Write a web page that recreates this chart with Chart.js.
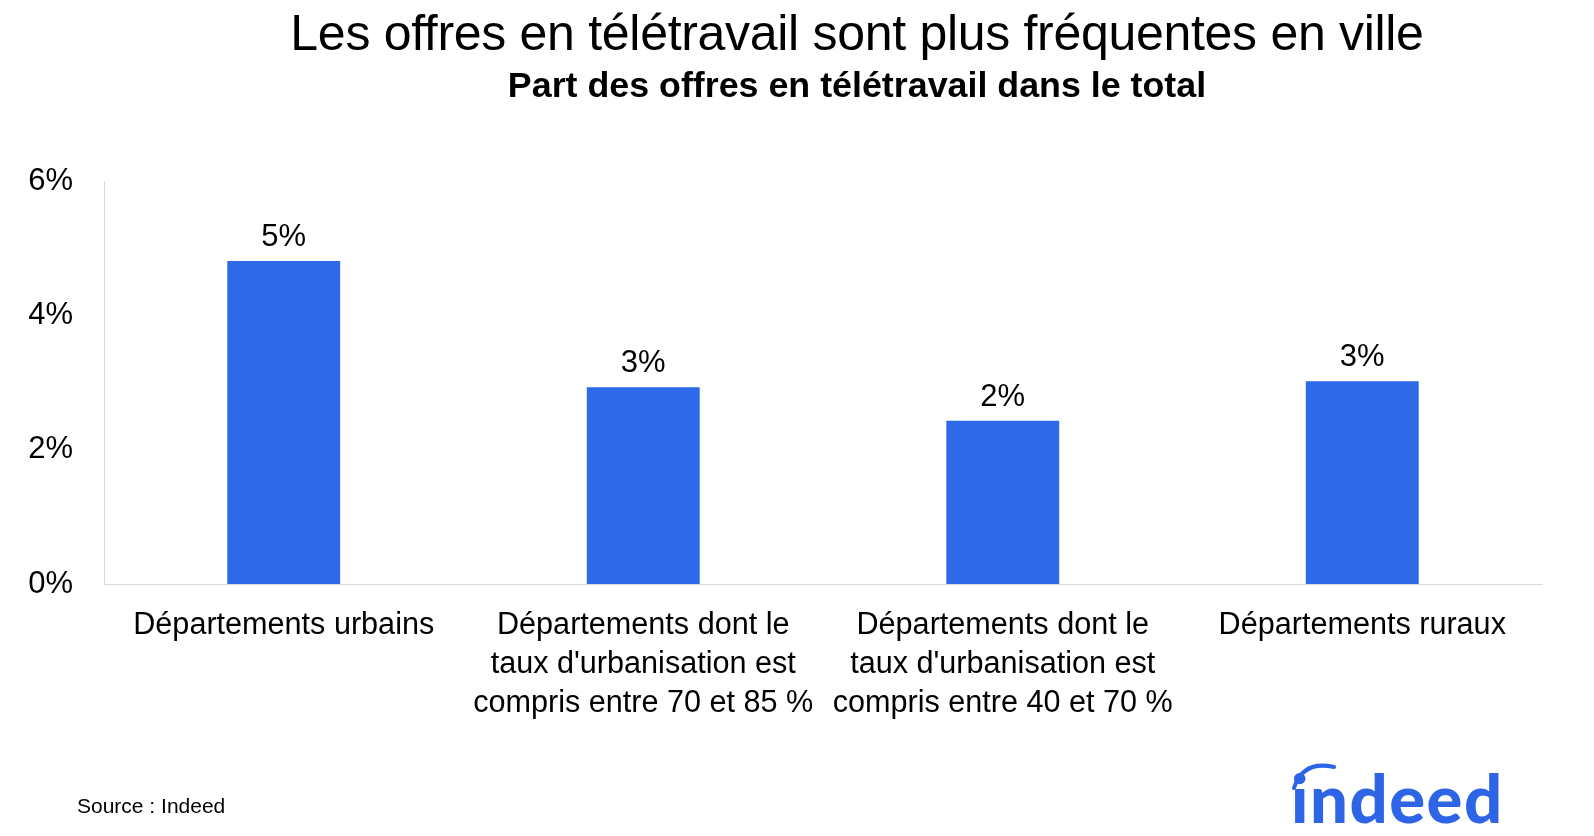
<!DOCTYPE html>
<html>
<head>
<meta charset="utf-8">
<script src="https://cdn.jsdelivr.net/npm/chart.js@4.4.1/dist/chart.umd.min.js"></script>
<style>
  html, body { margin: 0; padding: 0; background: #ffffff; }
  #wrap { position: relative; width: 1594px; height: 836px; overflow: hidden; background: #fff; }
  #chartBox { position: absolute; left: 0; top: 0; width: 1594px; height: 836px; }
  .txt { position: absolute; white-space: nowrap; font-family: "Liberation Sans", Arial, Helvetica, sans-serif; color: #000; }
  #title { left: 857px; top: 7.5px; transform: translateX(-50%); font-size: 50px; line-height: 50px; letter-spacing: -0.3px; }
  #subtitle { left: 857px; top: 67.5px; transform: translateX(-50%); font-size: 35.8px; line-height: 35px; font-weight: bold; }
  #source { left: 77px; top: 795px; font-size: 21px; line-height: 21px; }
  #logo { position: absolute; left: 1291px; top: 764px; font-family: Lato, "Open Sans", sans-serif; font-weight: 900; font-size: 67px; line-height: 66px; color: #2D65E6; white-space: nowrap; letter-spacing: 1.5px; }
  #arc { position: absolute; left: 0; top: 0; }
</style>
</head>
<body>
<div id="wrap">
  <div id="chartBox"><canvas id="c"></canvas></div>
  <div class="txt" id="title">Les offres en télétravail sont plus fréquentes en ville</div>
  <div class="txt" id="subtitle">Part des offres en télétravail dans le total</div>
  <div class="txt" id="source">Source : Indeed</div>
  <div id="logo">indeed</div>
  <svg id="arc" width="1594" height="836"><path d="M1294 788 Q1303 760 1334 767" fill="none" stroke="#2D65E6" stroke-width="4" stroke-linecap="round"/></svg>
</div>
<script>
const categories = [
  ["Départements urbains"],
  ["Départements dont le", "taux d'urbanisation est", "compris entre 70 et 85 %"],
  ["Départements dont le", "taux d'urbanisation est", "compris entre 40 et 70 %"],
  ["Départements ruraux"]
];
const shareValues = [4.81, 2.93, 2.43, 3.02];
const valueLabels = ["5%", "3%", "2%", "3%"];
const yTicks = [0, 2, 4, 6];

const FONT = '"Liberation Sans", Arial, Helvetica, sans-serif';

const valueLabelPlugin = {
  id: 'valueLabels',
  afterDatasetsDraw(chart) {
    const ctx = chart.ctx;
    const meta = chart.getDatasetMeta(0);
    ctx.save();
    ctx.font = '31px ' + FONT;
    ctx.fillStyle = '#000';
    ctx.textAlign = 'center';
    ctx.textBaseline = 'alphabetic';
    meta.data.forEach((bar, i) => {
      ctx.fillText(valueLabels[i], bar.x, bar.y - 15);
    });
    ctx.restore();
  }
};

new Chart(document.getElementById('c'), {
  type: 'bar',
  data: {
    labels: categories,
    datasets: [{
      data: shareValues,
      backgroundColor: '#2E69E8',
      borderWidth: 0,
      categoryPercentage: 1.0,
      barPercentage: 0.314
    }]
  },
  options: {
    responsive: true,
    maintainAspectRatio: false,
    animation: false,
    layout: { padding: { top: 181, right: 52, bottom: 0, left: 0 } },
    plugins: {
      legend: { display: false },
      tooltip: { enabled: false },
      title: { display: false }
    },
    scales: {
      x: {
        grid: { display: false, drawTicks: false },
        border: { display: true, color: '#d9d9d9', width: 1 },
        ticks: {
          color: '#000',
          padding: 22,
          maxRotation: 0,
          autoSkip: false,
          font: { family: FONT, size: 30.6, lineHeight: '39px' }
        },
        afterFit(scale) { scale.height = 252; }
      },
      y: {
        min: 0,
        max: 6,
        grid: { display: false, drawTicks: false },
        border: { display: true, color: '#d9d9d9', width: 1 },
        afterBuildTicks(scale) { scale.ticks = yTicks.map(v => ({ value: v })); },
        ticks: {
          color: '#000',
          padding: 31,
          font: { family: FONT, size: 31 },
          callback: (v) => v + '%'
        },
        afterFit(scale) { scale.width = 104; }
      }
    }
  },
  plugins: [valueLabelPlugin]
});
</script>
</body>
</html>
